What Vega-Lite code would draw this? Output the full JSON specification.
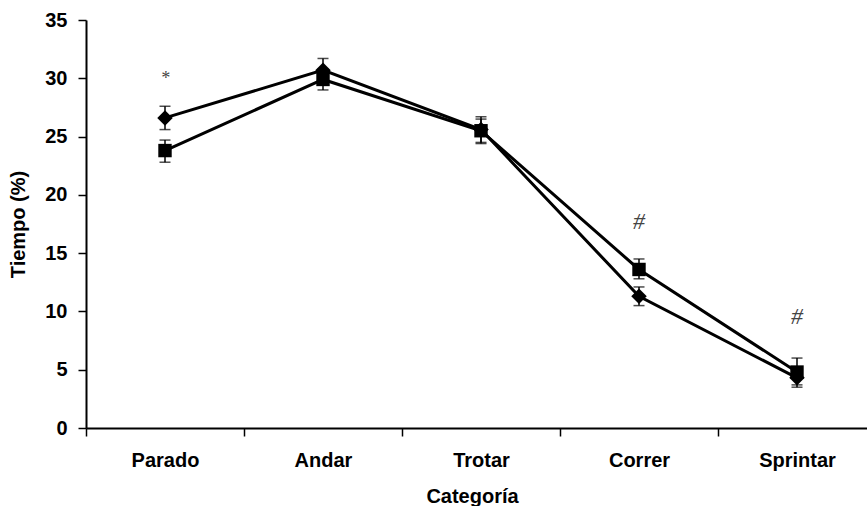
{
  "$schema": "https://vega.github.io/schema/vega-lite/v6.json",
  "width": 781,
  "height": 408,
  "autosize": {"type": "none"},
  "padding": {"left": 86, "top": 20, "right": 0, "bottom": 78},
  "background": "white",
  "config": {
    "view": {"stroke": null},
    "axis": {
      "grid": false,
      "domainColor": "black",
      "domainWidth": 2,
      "tickColor": "black",
      "tickWidth": 1.5,
      "tickSize": 8,
      "labelFont": "Liberation Sans",
      "labelFontWeight": "bold",
      "labelFontSize": 20,
      "labelColor": "black",
      "titleFont": "Liberation Sans",
      "titleFontWeight": "bold",
      "titleFontSize": 20,
      "titleColor": "black"
    }
  },
  "datasets": {
    "series": [
      {"cat": "Parado", "serie": "A", "value": 26.6, "lo": 25.6, "hi": 27.6},
      {"cat": "Andar", "serie": "A", "value": 30.7, "lo": 29.7, "hi": 31.7},
      {"cat": "Trotar", "serie": "A", "value": 25.6, "lo": 24.5, "hi": 26.7},
      {"cat": "Correr", "serie": "A", "value": 11.3, "lo": 10.5, "hi": 12.1},
      {"cat": "Sprintar", "serie": "A", "value": 4.3, "lo": 3.5, "hi": 5.1},
      {"cat": "Parado", "serie": "B", "value": 23.8, "lo": 22.8, "hi": 24.7},
      {"cat": "Andar", "serie": "B", "value": 29.9, "lo": 29.0, "hi": 30.8},
      {"cat": "Trotar", "serie": "B", "value": 25.5, "lo": 24.4, "hi": 26.5},
      {"cat": "Correr", "serie": "B", "value": 13.6, "lo": 12.8, "hi": 14.5},
      {"cat": "Sprintar", "serie": "B", "value": 4.8, "lo": 3.7, "hi": 6.0}
    ],
    "notes": [
      {"cat": "Parado", "label": "*", "value": 29.9, "size": 18},
      {"cat": "Correr", "label": "#", "value": 17.7, "size": 24},
      {"cat": "Sprintar", "label": "#", "value": 9.5, "size": 24}
    ]
  },
  "encoding": {
    "x": {
      "field": "cat",
      "type": "nominal",
      "sort": ["Parado", "Andar", "Trotar", "Correr", "Sprintar"],
      "scale": {"type": "band", "paddingInner": 0, "paddingOuter": 0, "range": [0, 790]},
      "axis": {"title": "Categoría", "labelAngle": 0, "tickBand": "extent", "labelPadding": 14, "titleX": 386, "titleY": 68, "titleBaseline": "middle"}
    }
  },
  "layer": [
    {
      "mark": {"type": "rule", "color": "#9a9a9a", "strokeWidth": 1},
      "encoding": {"x": null, "y": {"datum": 35, "type": "quantitative", "scale": {"domain": [0, 35], "nice": false}}}
    },
    {
      "data": {"name": "series"},
      "mark": {"type": "rule", "color": "black", "strokeWidth": 1.5},
      "encoding": {
        "y": {"field": "lo", "type": "quantitative", "scale": {"domain": [0, 35], "nice": false}, "axis": {"title": "Tiempo (%)", "values": [0, 5, 10, 15, 20, 25, 30, 35], "labelPadding": 11, "titlePadding": 16}},
        "y2": {"field": "hi"},
        "detail": {"field": "serie"}
      }
    },
    {
      "data": {"name": "series"},
      "mark": {"type": "tick", "color": "black", "size": 11, "thickness": 1.5},
      "encoding": {"y": {"field": "lo", "type": "quantitative"}, "detail": {"field": "serie"}}
    },
    {
      "data": {"name": "series"},
      "mark": {"type": "tick", "color": "black", "size": 11, "thickness": 1.5},
      "encoding": {"y": {"field": "hi", "type": "quantitative"}, "detail": {"field": "serie"}}
    },
    {
      "data": {"name": "series"},
      "mark": {"type": "line", "color": "black", "strokeWidth": 3},
      "encoding": {"y": {"field": "value", "type": "quantitative"}, "detail": {"field": "serie"}}
    },
    {
      "data": {"name": "series"},
      "mark": {"type": "point", "filled": true, "color": "black", "opacity": 1},
      "encoding": {
        "y": {"field": "value", "type": "quantitative"},
        "shape": {"field": "serie", "type": "nominal", "scale": {"domain": ["A", "B"], "range": ["diamond", "square"]}, "legend": null},
        "size": {"field": "serie", "type": "nominal", "scale": {"domain": ["A", "B"], "range": [240, 180]}, "legend": null}
      }
    },
    {
      "data": {"name": "notes"},
      "mark": {"type": "text", "font": "Liberation Serif", "fontStyle": "italic", "color": "#444444", "baseline": "middle"},
      "encoding": {
        "y": {"field": "value", "type": "quantitative"},
        "text": {"field": "label"},
        "size": {"field": "size", "type": "quantitative", "scale": null}
      }
    }
  ]
}
